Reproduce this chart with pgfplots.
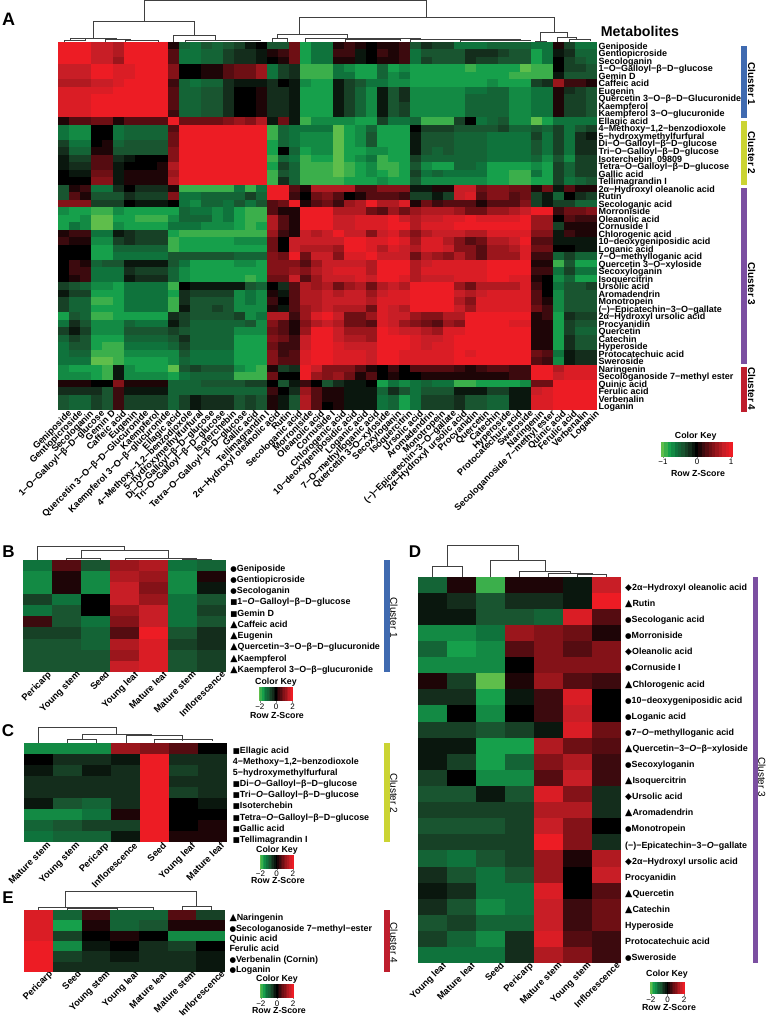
\documentclass[border=0pt]{standalone}
\usepackage{fontspec}
\setmainfont{Liberation Sans}
\newfontfamily\sym{DejaVu Sans}
\usepackage{pgfplots}
\usepackage{pgfplotstable}
\pgfplotsset{compat=1.18}
\definecolor{cblue}{RGB}{63,106,176}
\definecolor{cyel}{RGB}{203,212,51}
\definecolor{cpur}{RGB}{123,79,161}
\definecolor{cred}{RGB}{190,30,45}
\newcommand\fs[1]{\fontsize{#1}{#1}\selectfont}
\newcommand\ci{{\sym\fs{7.5}●}}
\newcommand\sq{{\sym\fs{7.5}■}}
\newcommand\tr{{\sym\fs{9.5}▲}}
\newcommand\di{{\sym\fs{9}◆}}

% one cell of each panel, size in pt = px of the reference
\pgfdeclareplotmark{cellA}{\pgfpathrectangle{\pgfqpoint{-5.55pt}{-3.85pt}}{\pgfqpoint{11.1pt}{7.7pt}}\pgfusepathqfill}
\pgfdeclareplotmark{cellB}{\pgfpathrectangle{\pgfqpoint{-14.55pt}{-5.7pt}}{\pgfqpoint{29.1pt}{11.4pt}}\pgfusepathqfill}
\pgfdeclareplotmark{cellE}{\pgfpathrectangle{\pgfqpoint{-14.55pt}{-5.2pt}}{\pgfqpoint{29.1pt}{10.4pt}}\pgfusepathqfill}
\pgfdeclareplotmark{cellD}{\pgfpathrectangle{\pgfqpoint{-14.6pt}{-8.15pt}}{\pgfqpoint{29.2pt}{16.3pt}}\pgfusepathqfill}
\pgfdeclareplotmark{keyA}{\pgfpathrectangle{\pgfqpoint{-2pt}{-7.35pt}}{\pgfqpoint{4pt}{14.7pt}}\pgfusepathqfill}
\pgfdeclareplotmark{keyB}{\pgfpathrectangle{\pgfqpoint{-1pt}{-6.9pt}}{\pgfqpoint{2pt}{13.8pt}}\pgfusepathqfill}
\pgfdeclareplotmark{keyD}{\pgfpathrectangle{\pgfqpoint{-1pt}{-6.15pt}}{\pgfqpoint{2pt}{12.3pt}}\pgfusepathqfill}

% values are z-score x 10 (A) or x 5 (B-E): all on -10..10
\pgfplotsset{
  colormap={gkr}{rgb255=(95,190,75) rgb255=(22,160,75) rgb255=(15,115,60) rgb255=(25,85,48) rgb255=(20,45,28) rgb255=(0,0,0) rgb255=(60,10,14) rgb255=(110,15,20) rgb255=(155,22,28) rgb255=(200,30,38) rgb255=(237,28,36)},
  colormap name=gkr,
  point meta min=-10, point meta max=10,
  heatax/.style={scale only axis, anchor=north west, y dir=reverse,
    axis line style={draw=none}, major tick length=0pt, tick style={draw=none},
    xmin=-0.5, ymin=-0.5},
  lab9/.style={yticklabel pos=right,
    yticklabel style={font=\fs{9}\bfseries, anchor=base west, inner sep=0pt, xshift=1.5pt, yshift=-3.6pt},
    xticklabel style={font=\fs{9.2}\bfseries, rotate=45, anchor=north east, inner sep=0pt, xshift=3pt, yshift=-2pt}},
  lab8/.style={yticklabel style={font=\fs{8.9}\bfseries,xshift=2.5pt,yshift=-2pt},
    xticklabel style={font=\fs{9.3}\bfseries,xshift=#1,yshift=-3pt}},
  keyax/.style={scale only axis, anchor=north west, xmin=-10.5, xmax=10.5, ymin=0, ymax=1,
    axis line style={draw=none}, ytick=\empty, xtick={-10,0,10}, tick align=outside,
    major tick length=1.5pt, xtick pos=bottom,
    xticklabel style={font=\fs{8}, inner sep=0pt, yshift=-1pt}},
}
\newcommand\heatplot[3]{\pgfplotsinvokeforeach{0,...,#2}{%
  \addplot[scatter,only marks,mark=#3,scatter src=explicit] table[x expr=##1,y expr=\coordindex,meta index=##1]{#1};}}
\newcommand\colorkey[7]{\begin{axis}[keyax,at={(#1pt,-#2pt)},width=#3pt,height=#4pt,xticklabels={#5,0,#6}]
  \addplot[scatter,only marks,mark=#7,scatter src=x] coordinates {(-10,.5)(-9,.5)(-8,.5)(-7,.5)(-6,.5)(-5,.5)(-4,.5)(-3,.5)(-2,.5)(-1,.5)(0,.5)(1,.5)(2,.5)(3,.5)(4,.5)(5,.5)(6,.5)(7,.5)(8,.5)(9,.5)(10,.5)};
  \end{axis}}
% dendrogram link: left leg x1 down to y1, top at t, right leg x2 down to y2
\newcommand\U[5]{\addplot[draw=black!75,line width=0.6pt] coordinates {(#1,#2)(#1,#3)(#4,#3)(#4,#5)};}
\newcommand\cbar[5]{\addplot[fill=#5,draw=none] coordinates {(#1,#2)(#3,#2)(#3,#4)(#1,#4)} --cycle;}

\pgfplotstableread[header=false]{
10 10 10 8 8 7 10 10 10 10 1 -5 -6 -4 -5 -4 -3 -1 0 -4 -4 4 -8 -6 -6 1 2 1 0 1 1 2 -4 -2 -3 -3 -6 -6 -6 -5 -5 -5 -5 -6 -6 1 -3 -6 -6
10 10 10 8 8 7 10 10 10 10 3 -6 -6 -5 -5 -3 -2 -2 -1 1 2 4 -8 -6 -6 2 2 -1 0 2 1 2 -6 -4 -4 -4 -4 -2 -2 -2 -3 -4 -4 -8 -6 -1 -2 -5 -5
10 10 10 8 8 6 10 10 10 10 3 -6 -6 -5 -5 -3 -2 -2 -1 0 1 4 -8 -6 -6 1 1 -1 0 1 1 2 -6 -3 -4 -4 -4 -2 -3 -3 -4 -4 -4 -8 -6 0 -3 -4 -5
8 8 8 10 10 9 9 10 10 10 5 0 0 1 1 3 4 4 6 -6 -3 -2 -9 -9 -9 -6 -7 -8 -8 -5 -8 -7 -8 -8 -8 -8 -8 -9 -8 -8 -8 -8 -10 -9 -9 0 -3 -3 -4
8 8 8 10 10 9 9 10 10 10 5 0 0 1 1 3 4 4 6 -6 -3 -2 -9 -9 -9 -6 -6 -8 -8 -5 -7 -6 -8 -8 -8 -8 -8 -8 -8 -8 -8 -9 -9 -9 -9 -1 -4 -4 -4
7 7 7 8 8 9 10 10 10 10 2 -5 -6 -5 -5 -2 -1 -1 -1 -2 0 -1 -7 -8 -8 -1 -3 -4 -6 -6 -7 -7 -8 -8 -8 -8 -8 -8 -8 -7 -8 -8 -8 -3 -2 6 2 2 1
9 9 9 9 9 10 10 10 10 10 3 -5 -5 -4 -4 -2 0 0 1 -2 -2 -1 -8 -8 -8 -1 -3 -5 -7 -1 -4 -2 -7 -7 -7 -7 -7 -6 -6 -5 -5 -7 -7 -6 -6 1 -2 -3 -4
9 9 9 10 10 10 10 10 10 10 3 -5 -5 -4 -4 -2 0 0 1 -2 -2 -1 -8 -8 -8 -1 -3 -5 -7 -1 -4 -2 -7 -7 -7 -7 -7 -5 -5 -5 -5 -7 -7 -6 -6 1 -3 -3 -4
9 9 9 10 10 10 10 10 10 10 3 -5 -5 -4 -4 -2 0 0 1 -2 -2 -1 -8 -8 -8 -1 -3 -5 -7 -1 -4 -3 -7 -7 -7 -7 -7 -5 -5 -5 -5 -7 -7 -6 -6 1 -3 -3 -4
9 9 9 10 10 10 10 10 10 10 2 -5 -5 -4 -4 -2 0 0 1 -2 -2 -1 -8 -8 -8 -1 -3 -5 -7 -1 -4 -3 -7 -7 -7 -7 -7 -5 -5 -5 -5 -7 -7 -6 -6 1 -3 -3 -4
1 3 3 4 4 1 3 3 3 3 10 4 4 4 4 5 6 5 7 -1 4 -1 -9 -7 -7 -7 -7 -8 -8 -3 -6 -6 -5 -9 -9 -9 -3 0 -6 -5 -4 -7 -7 -10 -8 -6 -6 -6 -6
-6 -7 -7 0 0 -6 -5 -5 -5 -5 3 10 10 10 10 10 10 10 10 -9 -5 -6 -6 -6 -6 -10 -8 -7 -5 -8 -8 -8 0 -3 -3 -3 -4 -4 -4 -4 -3 -5 -5 -4 -5 -3 -6 -4 -3
-6 -7 -7 0 0 -6 -5 -5 -5 -5 4 10 10 10 10 10 10 10 10 -9 -5 -6 -7 -7 -7 -10 -8 -7 -4 -8 -8 -8 -1 -4 -4 -4 -5 -5 -5 -6 -6 -6 -6 -3 -6 -3 -6 -2 -1
-3 -6 -6 0 1 -5 -4 -4 -4 -4 4 10 10 10 10 10 10 10 10 -8 -5 -6 -7 -7 -7 -10 -8 -7 -4 -8 -8 -8 -1 -4 -4 -4 -5 -5 -5 -6 -6 -6 -6 -4 -6 -3 -6 -2 -2
-2 -5 -5 1 1 -4 -4 -4 -4 -4 5 10 10 10 10 10 10 10 10 -8 0 -5 -8 -7 -7 -10 -8 -8 -7 -7 -8 -8 -1 -4 -5 -4 -5 -5 -5 -6 -6 -6 -6 -4 -6 -3 -6 -2 -2
-1 -3 -3 3 3 -2 -1 0 0 0 5 10 10 10 10 10 10 10 10 -9 -5 -6 -9 -8 -8 -10 -8 -7 -6 -9 -8 -8 -3 -5 -5 -5 -5 -5 -5 -6 -6 -6 -6 -5 -7 -4 -7 -3 -3
-1 -2 -2 3 3 -1 0 0 0 1 7 10 10 10 10 10 10 10 10 -8 -3 -5 -9 -9 -9 -10 -9 -8 -7 -9 -9 -8 -4 -7 -8 -8 -5 -5 -6 -8 -8 -8 -8 -7 -8 -3 -5 -3 -3
0 -1 -1 4 4 -1 1 1 1 1 6 10 10 10 10 10 10 10 10 -9 -4 -5 -9 -9 -9 -10 -9 -8 -7 -8 -9 -8 -3 -6 -5 -6 -6 -6 -6 -8 -8 -9 -9 -6 -8 -3 -5 -3 -3
0 0 0 5 5 -1 1 1 1 1 7 10 10 10 10 10 10 10 10 -9 -2 -5 -9 -9 -9 -9 -8 -8 -8 -7 -8 -8 -4 -7 -7 -7 -7 -7 -7 -8 -8 -9 -9 -8 -8 -3 -6 -5 -4
-4 1 2 -6 -6 -2 0 -2 -2 -2 1 -9 -9 -9 -9 -9 -6 -9 -6 10 10 3 1 7 7 7 7 3 3 5 5 5 -1 -1 1 1 8 8 4 5 5 4 4 1 4 -1 3 1 1
-4 3 1 -4 -4 -4 -2 -3 -3 -3 5 -6 -6 -5 -5 -5 -5 -3 -5 10 10 2 0 4 5 3 0 1 3 3 3 2 -3 -3 -1 -3 8 9 3 5 5 3 4 -3 -1 -5 0 -2 -3
5 5 5 -3 -3 -3 0 -1 -1 -1 0 -6 -7 -5 -5 -6 -4 -6 -4 3 4 10 1 3 4 2 6 7 10 7 7 9 1 4 2 3 3 3 1 3 3 3 5 -3 -1 -3 -3 -5 -5
-7 -8 -8 -9 -9 -7 -8 -8 -8 -8 -8 -5 -6 -6 -7 -6 -8 -9 -9 3 1 1 10 10 10 7 7 7 4 3 6 4 6 7 7 7 6 4 4 6 6 7 8 10 10 2 4 4 5
-8 -8 -7 -10 -10 -8 -8 -9 -9 -9 -7 -5 -5 -5 -7 -6 -8 -9 -9 7 3 1 10 10 10 8 8 9 9 9 10 8 7 8 8 9 9 10 9 9 9 9 10 6 6 0 3 2 2
-8 -6 -7 -10 -10 -7 -8 -8 -8 -8 -6 -6 -6 -7 -7 -7 -8 -9 -8 7 3 1 10 10 10 8 8 9 9 9 10 10 7 9 9 9 10 10 10 10 10 10 10 6 6 -3 1 1 1
1 2 2 -6 -6 -1 -2 -3 -3 -3 -8 -9 -9 -9 -9 -9 -9 -9 -9 6 2 1 8 7 8 10 8 8 5 8 9 7 5 7 8 8 8 7 7 9 9 9 9 5 5 -1 2 1 1
2 1 1 -7 -7 -3 -2 -3 -3 -3 -9 -8 -8 -8 -8 -8 -7 -7 -7 4 0 8 8 8 8 8 10 10 9 9 10 9 6 9 9 7 5 3 4 7 7 8 10 3 3 -1 -1 -1 -1
0 0 0 -8 -8 -5 -5 -5 -5 -5 -9 -8 -8 -8 -8 -8 -8 -8 -8 4 0 8 7 7 7 6 10 10 9 7 9 8 7 9 9 8 5 5 3 6 6 7 9 4 4 0 0 -1 -1
0 0 0 -8 -8 -6 -6 -6 -6 -6 -4 -4 -4 -4 -4 -4 -5 -5 -5 5 4 10 4 8 8 5 9 9 10 8 8 8 4 7 6 5 7 5 3 6 6 6 9 2 2 -5 -3 -5 -5
0 2 1 -5 -4 -4 -1 -1 -1 -1 -4 -6 -8 -8 -8 -8 -7 -7 -8 5 5 5 3 6 8 8 8 8 7 10 10 10 7 8 9 9 9 9 9 10 10 10 10 1 1 -9 -4 -8 -8
0 2 2 -6 -6 -6 -2 -3 -3 -3 -5 -7 -8 -8 -8 -8 -8 -8 -8 5 5 6 5 7 8 9 9 9 7 10 10 10 7 9 9 9 9 9 9 10 10 10 10 2 2 -6 -3 -6 -6
0 1 2 -6 -6 -6 -1 -2 -2 -2 -5 -7 -8 -8 -8 -8 -8 -9 -8 4 4 8 3 6 8 8 8 9 8 10 10 9 7 8 8 8 9 9 9 10 10 9 9 1 0 -7 -5 -8 -8
-3 -4 -5 -7 -7 -8 -6 -6 -6 -6 -9 0 -1 -1 -1 -1 -1 -4 -5 0 -2 3 7 6 7 4 6 7 4 7 8 7 10 10 10 10 6 4 7 7 7 7 9 2 0 -6 -4 -4 -3
-1 -3 -3 -8 -8 -8 -6 -6 -6 -6 -8 -2 -3 -3 -3 -3 -7 -6 -7 1 -1 3 7 7 8 7 8 8 6 8 9 9 10 10 10 10 8 7 8 9 9 9 9 3 0 -7 -4 -4 -4
-3 -5 -5 -9 -9 -8 -6 -6 -6 -6 -9 -2 -4 -4 -4 -4 -7 -6 -7 2 0 3 7 7 8 8 8 8 7 9 9 9 10 10 10 10 7 5 9 9 9 9 9 3 1 -7 -4 -4 -4
-3 -5 -5 -8 -8 -8 -6 -6 -6 -6 -9 -1 -4 -4 -3 -4 -7 -7 -7 1 -1 3 6 7 8 7 7 7 4 9 8 7 10 10 10 10 8 6 9 9 9 9 9 4 2 -7 -4 -4 -4
-8 -4 -5 -9 -9 -8 -8 -8 -8 -8 -2 -3 -4 -4 -4 -4 -3 -7 -6 7 7 2 6 9 10 8 4 4 6 9 8 8 6 5 5 7 7 10 10 10 10 10 10 1 2 -8 -2 -3 -3
-6 -2 -4 -7 -7 -7 -5 -6 -6 -6 -1 -3 -5 -5 -5 -5 -5 -4 -7 5 3 1 5 7 8 7 4 4 3 9 8 6 5 4 3 6 5 10 10 10 10 9 9 1 1 -8 -3 -4 -4
-3 -1 -3 -7 -7 -7 -4 -4 -4 -4 -3 -4 -5 -5 -5 -5 -7 -7 -7 4 3 1 6 10 10 8 6 6 6 10 9 8 8 7 6 9 9 10 10 10 10 10 10 1 1 -8 -3 -5 -5
-5 -3 -4 -8 -8 -8 -5 -5 -5 -5 -4 -2 -5 -5 -5 -5 -8 -8 -8 5 4 2 8 10 10 8 7 7 6 10 10 10 9 8 8 9 10 10 10 10 10 10 10 1 1 -8 -2 -4 -4
-6 -4 -4 -8 -9 -9 -6 -6 -6 -6 -5 -3 -5 -5 -5 -5 -8 -8 -8 4 2 2 8 10 10 9 8 8 8 10 10 10 9 8 9 9 10 10 10 10 10 10 10 1 1 -8 -2 -4 -4
-6 -5 -5 -9 -9 -9 -7 -7 -7 -7 -7 -4 -6 -6 -6 -6 -8 -8 -8 5 2 3 9 10 10 9 9 9 8 10 10 9 9 9 9 9 10 9 10 10 10 10 10 4 3 -6 -1 -2 -2
-6 -6 -6 -10 -10 -9 -8 -8 -8 -8 -7 -5 -6 -6 -6 -6 -8 -8 -8 5 3 3 9 10 10 9 9 9 8 10 10 9 9 9 9 9 10 10 10 10 10 10 10 3 2 -7 -1 -2 -2
-7 -8 -8 -8 -9 -1 -7 -8 -8 -8 -10 -4 -3 -4 -4 -4 -7 -8 -9 1 -3 -2 10 8 5 5 5 3 1 0 2 0 3 3 3 3 2 1 2 3 3 2 2 10 10 7 9 9 9
-7 -7 -7 -8 -9 -1 -7 -7 -7 -7 -8 -6 -5 -5 -5 -5 -9 -9 -9 4 0 0 10 6 5 6 4 1 3 0 1 0 0 1 1 1 1 1 1 1 1 2 2 10 10 8 9 9 9
1 1 1 0 0 5 1 1 1 1 -5 -5 -5 -4 -4 -4 -4 -3 -3 0 -4 -1 2 0 -4 -2 -1 -1 0 -8 -6 -7 -6 -5 -6 -6 -9 -9 -8 -8 -8 -8 -7 4 4 10 10 10 10
-2 -2 -2 -2 -4 2 -1 -1 -1 -1 -5 -5 -5 -5 -5 -5 -5 -5 -5 2 0 -2 6 3 1 1 -1 -1 -1 -5 -2 -4 -6 -4 -4 -4 -1 -1 -1 -3 -3 -1 -1 8 9 10 10 10 10
-4 -5 -5 -3 -4 2 -3 -3 -3 -3 -5 -3 -1 -2 -2 -2 -4 -3 -4 1 -1 -4 7 3 1 1 -1 -1 -1 -6 -5 -8 -6 -3 -3 -3 -2 -4 -4 -5 -5 -1 -1 9 9 10 10 10 10
-4 -5 -5 -3 -4 2 -3 -3 -3 -3 -5 -3 -1 -2 -2 -2 -4 -3 -4 1 -1 -4 7 3 0 1 -1 -1 -1 -6 -5 -8 -6 -3 -3 -3 -2 -4 -4 -5 -5 -1 -1 9 9 10 10 10 10
}\tabA
\pgfplotstableread[header=false]{
-6 3 -4 6 7 -6 -5
-7 1 -7 7 6 -7 1
-7 1 -7 8 5 -7 -1
-3 -6 0 8 6 -6 -4
-6 -4 0 6 8 -6 -3
2 -4 -6 5 8 -6 -4
-3 -3 -5 3 10 -4 -2
-4 -4 -5 7 9 -3 -2
-4 -4 -4 6 9 -4 -3
-4 -4 -4 8 9 -4 -3
}\tabB
\pgfplotstableread[header=false]{
-7 -7 -7 6 5 3 0
0 -2 -2 -1 10 -2 -2
-1 -3 -1 -2 10 -3 -2
-2 -2 -2 -2 10 -2 -2
-2 -2 -2 -2 10 -3 -2
-1 -4 -5 -2 10 0 -1
-7 -7 -6 1 10 0 0
-5 -4 -3 -3 10 0 1
-6 -5 -5 -1 10 1 1
}\tabC
\pgfplotstableread[header=false]{
-5 1 -9 1 1 -1 8
-1 -2 -4 -2 -2 -1 10
-1 -1 -4 -4 -5 9 3
-7 -7 -6 6 5 4 1
-5 -8 -7 3 5 3 5
-7 -7 -7 0 5 5 5
1 -3 -10 1 6 3 2
-2 -2 -8 -1 2 9 0
-7 0 -7 0 2 8 0
-3 -3 -4 -3 -1 9 4
-1 -1 -8 -8 7 4 3
-1 -3 -8 -5 5 7 2
-3 0 -7 -7 3 8 2
-4 -4 -1 -4 9 5 -2
-3 -3 -3 -3 7 7 -2
-4 -4 -4 -3 8 5 0
-3 -3 -3 -3 10 5 -2
-5 -6 -4 -3 6 1 7
-2 -4 -6 -4 6 0 8
-1 -2 -6 -6 9 0 3
-2 -4 -7 -6 8 2 4
-4 -3 -5 -5 8 2 4
-3 -5 -7 -2 9 3 2
-6 -6 -6 -2 7 5 2
}\tabD
\pgfplotstableread[header=false]{
9 -5 2 -5 -5 3 -3
9 -8 1 -5 -4 1 1
9 -3 0 1 0 -7 -7
10 -7 -1 0 -2 -3 0
10 -3 -2 -1 -2 -2 -1
10 -2 -2 -2 -2 -2 -1
}\tabE

\begin{document}
\begin{tikzpicture}
\useasboundingbox (0pt,0pt) rectangle (766pt,-1017pt);

% overlay in reference pixels: dendrograms, cluster bars, captions
\begin{axis}[at={(0pt,0pt)},anchor=north west,scale only axis,width=766pt,height=1017pt,
  xmin=0,xmax=766,ymin=0,ymax=1017,y dir=reverse,hide axis,clip=false,
  nodes={inner sep=0pt}]
% A
\U{144.3}{21}{0.5}{426.3}{17.3}
\U{93.5}{38}{21}{194.5}{35}
\U{299.3}{34}{17.3}{554.3}{32}
\U{70}{41}{38}{116}{40}
\U{64}{42}{40}{85}{39}
\U{105}{42}{39.5}{130}{40}
\U{125}{42}{40.5}{158}{41}
\U{173.7}{42}{35}{215.7}{40}
\U{185}{42}{40}{260}{41}
\U{277.6}{38}{34}{347.5}{38.5}
\U{272}{42}{38}{287}{42}
\U{305}{42}{38.5}{420}{39}
\U{345}{42}{39.5}{400}{40}
\U{410}{42}{39}{520}{40}
\U{460}{42}{40}{530}{41}
\U{540.7}{41}{32}{567.3}{37.5}
\U{535}{42}{41}{546}{42}
\U{557.3}{42}{37.5}{576.7}{39}
\U{569}{42}{39}{590}{41}
% B
\U{37.7}{560}{546}{124.3}{550}
\U{81.7}{558.3}{550}{168.3}{558}
\U{66.7}{560}{558.3}{100}{560}
\U{125}{560}{558.5}{196.7}{558.3}
\U{182}{560}{559}{211}{560}
% C
\U{38.3}{742.7}{727.3}{116.7}{734}
\U{82.3}{739}{734}{151.7}{734}
\U{67.7}{742.7}{739}{96.7}{742.7}
\U{126}{742.7}{735}{182}{741}
\U{154}{742.7}{739.5}{212.7}{741}
% D
\U{447.3}{566.7}{545.7}{518}{560}
\U{432.7}{576.7}{566.7}{462}{576.7}
\U{490.7}{576.7}{560}{545.3}{571.7}
\U{519.7}{576.7}{571.7}{570.7}{573.7}
\U{548.3}{576.7}{573.7}{592.3}{574}
\U{577.7}{576.7}{574}{606.7}{576.7}
% E
\U{65.3}{907.7}{891.7}{196.7}{906.7}
\U{38.3}{910}{907.7}{153}{910}
\U{67.7}{910}{908.3}{117}{910}
\U{182.3}{910}{906.7}{211}{910}
% cluster bars
\cbar{741.3}{46}{747}{117.7}{cblue}
\cbar{741.3}{121}{747}{185}{cyel}
\cbar{741.3}{187.7}{747}{364.3}{cpur}
\cbar{741.3}{367.3}{747}{411.7}{cred}
\cbar{384}{560}{390}{672.3}{cblue}
\cbar{384}{742.7}{390}{842}{cyel}
\cbar{384}{910}{390}{972}{cred}
\cbar{752.7}{576.7}{758.3}{963.3}{cpur}
% texts
\node[font=\fs{18}\bfseries] at (8.5,19) {A};
\node[font=\fs{17}\bfseries] at (8.5,552) {B};
\node[font=\fs{17}\bfseries] at (8,731) {C};
\node[font=\fs{17}\bfseries] at (415,552) {D};
\node[font=\fs{17}\bfseries] at (8,898) {E};
\node[font=\fs{14.2}\bfseries,anchor=west] at (600.7,31) {Metabolites};
\node[font=\fs{10}\bfseries,rotate=-90] at (751.7,84) {Cluster 1};
\node[font=\fs{10}\bfseries,rotate=-90] at (751.7,153) {Cluster 2};
\node[font=\fs{10}\bfseries,rotate=-90] at (751.7,284) {Cluster 3};
\node[font=\fs{10}\bfseries,rotate=-90] at (751.7,389) {Cluster 4};
\node[font=\fs{10},rotate=-90] at (394,617.7) {Cluster 1};
\node[font=\fs{10},rotate=-90] at (394,793) {Cluster 2};
\node[font=\fs{10},rotate=-90] at (394,942.7) {Cluster 4};
\node[font=\fs{10},rotate=-90] at (762,777) {Cluster 3};
\node[font=\fs{8.8}\bfseries] at (695.7,436) {Color Key};
\node[font=\fs{8.8}\bfseries] at (698,473) {Row Z-Score};
\node[font=\fs{8.8}\bfseries] at (276,682) {Color Key};
\node[font=\fs{8.8}\bfseries] at (277,715) {Row Z-Score};
\node[font=\fs{8.8}\bfseries] at (277,850) {Color Key};
\node[font=\fs{8.8}\bfseries] at (278,880) {Row Z-Score};
\node[font=\fs{8.8}\bfseries] at (277,979) {Color Key};
\node[font=\fs{8.8}\bfseries] at (279,1010.7) {Row Z-Score};
\node[font=\fs{8.8}\bfseries] at (667,974) {Color Key};
\node[font=\fs{8.8}\bfseries] at (669,1007) {Row Z-Score};
\end{axis}

% panel A
\begin{axis}[heatax,lab9,at={(58.2pt,-42pt)},width=538.7pt,height=368pt,xmax=48.5,ymax=48.5,
  xtick={0,...,48},ytick={0,...,48},
  xticklabels={Geniposide,Gentiopicroside,Secologanin,1−O−Galloyl−β−D−glucose,Gemin D,Caffeic acid,Eugenin,Quercetin 3−O−β−D−Glucuronide,Kaempferol,Kaempferol 3−O−β−glucuronide,Ellagic acid,{4−Methoxy−1,2−benzodioxole},5−hydroxymethylfurfural,Di−O−Galloyl−β−D−glucose,Tri−O−Galloyl−β−D−glucose,Isoterchebin,Tetra−O−Galloyl−β−D−glucose,Gallic acid,Tellimagrandin I,2α−Hydroxyl oleanolic acid,Rutin,Secologanic acid,Morroniside,Oleanolic acid,Cornuside I,Chlorogenic acid,10−deoxygeniposidic acid,Loganic acid,7−O−methylloganic acid,Quercetin 3−O−xyloside,Secoxyloganin,Isoquercitrin,Ursolic acid,Aromadendrin,Monotropein,(−)−Epicatechin−3−O−gallate,2α−Hydroxyl ursolic acid,Procyanidin,Quercetin,Catechin,Hyperoside,Protocatechuic acid,Sweroside,Naringenin,Secologanoside 7−methyl ester,Quinic acid,Ferulic acid,Verbenalin,Loganin},
  yticklabels={Geniposide,Gentiopicroside,Secologanin,1−O−Galloyl−β−D−glucose,Gemin D,Caffeic acid,Eugenin,Quercetin 3−O−β−D−Glucuronide,Kaempferol,Kaempferol 3−O−glucuronide,Ellagic acid,{4−Methoxy−1,2−benzodioxole},5−hydroxymethylfurfural,Di−O−Galloyl−β−D−glucose,Tri−O−Galloyl−β−D−glucose,Isoterchebin\_09809,Tetra−O−Galloyl−β−D−glucose,Gallic acid,Tellimagrandin I,2α−Hydroxyl oleanolic acid,Rutin,Secologanic acid,Morroniside,Oleanolic acid,Cornuside I,Chlorogenic acid,10−deoxygeniposidic acid,Loganic acid,7−O−methylloganic acid,Quercetin 3−O−xyloside,Secoxyloganin,Isoquercitrin,Ursolic acid,Aromadendrin,Monotropein,(−)−Epicatechin−3−O−gallate,2α−Hydroxyl ursolic acid,Procyanidin,Quercetin,Catechin,Hyperoside,Protocatechuic acid,Sweroside,Naringenin,Secologanoside 7−methyl ester,Quinic acid,Ferulic acid,Verbenalin,Loganin}]
\heatplot{\tabA}{48}{cellA}
\end{axis}

% panel B
\begin{axis}[heatax,lab9,lab8=5pt,at={(23.3pt,-560pt)},width=202.9pt,height=112.3pt,xmax=6.5,ymax=9.5,
  xtick={0,...,6},ytick={0,...,9},
  xticklabels={Pericarp,Young stem,Seed,Young leaf,Mature leaf,Mature stem,Inflorescence},
  yticklabels={\ci Geniposide,\ci Gentiopicroside,\ci Secologanin,\sq 1−\textit{O}−Galloyl−β−D−glucose,\sq Gemin D,\tr Caffeic acid,\tr Eugenin,\tr Quercetin−3−O−β−D−glucuronide,\tr Kaempferol,\tr Kaempferol 3−O−β−glucuronide}]
\heatplot{\tabB}{6}{cellB}
\end{axis}

% panel C
\begin{axis}[heatax,lab9,lab8=3pt,at={(24.3pt,-742.7pt)},width=202.4pt,height=99.3pt,xmax=6.5,ymax=8.5,
  xtick={0,...,6},ytick={0,...,8},yticklabel style={xshift=2pt},
  xticklabels={Mature stem,Young stem,Pericarp,Inflorescence,Seed,Young leaf,Mature leaf},
  yticklabels={\sq Ellagic acid,{4−Methoxy−1,2−benzodioxole},5−hydroxymethylfurfural,\sq Di−\textit{O}−Galloyl−β−D−glucose,\sq Tri−\textit{O}−Galloyl−β−D−glucose,\sq Isoterchebin,\sq Tetra−\textit{O}−Galloyl−β−D−glucose,\sq Gallic acid,\sq Tellimagrandin I}]
\heatplot{\tabC}{6}{cellB}
\end{axis}

% panel E
\begin{axis}[heatax,lab9,lab8=5.5pt,at={(24.3pt,-910pt)},width=201pt,height=62pt,xmax=6.5,ymax=5.5,
  xtick={0,...,6},ytick={0,...,5},
  xticklabels={Pericarp,Seed,Young stem,Young leaf,Mature leaf,Mature stem,Inflorescence},
  yticklabels={\tr Naringenin,\ci Secologanoside 7−methyl−ester,Quinic acid,Ferulic acid,\ci Verbenalin (Cornin),\ci Loganin}]
\heatplot{\tabE}{6}{cellE}
\end{axis}

% panel D
\begin{axis}[heatax,lab9,lab8=5pt,at={(418.3pt,-576.7pt)},width=202.7pt,height=386.6pt,xmax=6.5,ymax=23.5,
  xtick={0,...,6},ytick={0,...,23},
  xticklabels={Young leaf,Mature leaf,Seed,Pericarp,Mature stem,Young stem,Inflorescence},
  yticklabels={\di 2α−Hydroxyl oleanolic acid,\tr Rutin,\ci Secologanic acid,\ci Morroniside,\di Oleanolic acid,\ci Cornuside I,\tr Chlorogenic acid,\ci 10−deoxygeniposidic acid,\ci Loganic acid,\ci 7−\textit{O}−methylloganic acid,\tr Quercetin−3−\textit{O}−β−xyloside,\ci Secoxyloganin,\tr Isoquercitrin,\di Ursolic acid,\tr Aromadendrin,\ci Monotropein,(−)−Epicatechin−3−\textit{O}−gallate,\di 2α−Hydroxyl ursolic acid,Procyanidin,\tr Quercetin,\tr Catechin,Hyperoside,Protocatechuic acid,\ci Sweroside}]
\heatplot{\tabD}{6}{cellD}
\end{axis}

% colour keys
\colorkey{661.3}{442}{71.4}{14.7}{−1}{1}{keyA}
\colorkey{259}{687.3}{34.3}{13.8}{−2}{2}{keyB}
\colorkey{259.7}{854.7}{34}{13.8}{−2}{2}{keyB}
\colorkey{260}{984}{34}{13.8}{−2}{2}{keyB}
\colorkey{650}{981.7}{35}{12.3}{−2}{2}{keyD}
\end{tikzpicture}
\end{document}
